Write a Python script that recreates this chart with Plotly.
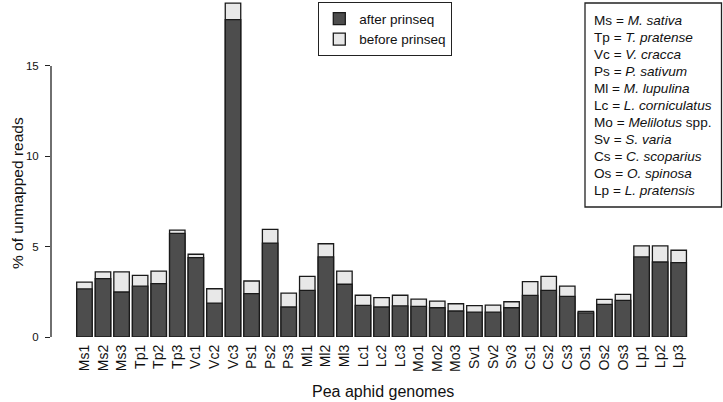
import plotly.graph_objects as go

genomes = ["Ms1", "Ms2", "Ms3", "Tp1", "Tp2", "Tp3", "Vc1", "Vc2", "Vc3",
           "Ps1", "Ps2", "Ps3", "Ml1", "Ml2", "Ml3", "Lc1", "Lc2", "Lc3",
           "Mo1", "Mo2", "Mo3", "Sv1", "Sv2", "Sv3", "Cs1", "Cs2", "Cs3",
           "Os1", "Os2", "Os3", "Lp1", "Lp2", "Lp3"]
after_prinseq = [2.66, 3.23, 2.49, 2.82, 2.95, 5.74, 4.39, 1.88, 17.56,
                 2.40, 5.20, 1.66, 2.58, 4.43, 2.92, 1.75, 1.66, 1.72,
                 1.70, 1.62, 1.44, 1.38, 1.38, 1.62, 2.30, 2.58, 2.25,
                 1.33, 1.81, 2.03, 4.43, 4.15, 4.12]
before_prinseq = [3.04, 3.60, 3.60, 3.41, 3.65, 5.92, 4.58, 2.67, 18.48,
                  3.10, 5.96, 2.43, 3.36, 5.16, 3.65, 2.31, 2.18, 2.31,
                  2.10, 1.99, 1.84, 1.74, 1.76, 1.95, 3.06, 3.36, 2.82,
                  1.42, 2.08, 2.36, 5.04, 5.04, 4.80]
y_ticks = [0, 5, 10, 15]
species_key = [
    ("Ms", "<i>M. sativa</i>"),
    ("Tp", "<i>T. pratense</i>"),
    ("Vc", "<i>V. cracca</i>"),
    ("Ps", "<i>P. sativum</i>"),
    ("Ml", "<i>M. lupulina</i>"),
    ("Lc", "<i>L. corniculatus</i>"),
    ("Mo", "<i>Melilotus</i> spp."),
    ("Sv", "<i>S. varia</i>"),
    ("Cs", "<i>C. scoparius</i>"),
    ("Os", "<i>O. spinosa</i>"),
    ("Lp", "<i>L. pratensis</i>"),
]

W, H = 723, 402
ML, MR, MT, MB = 51, 9, 0, 65
PW, PH = W - ML - MR, H - MT - MB
px_per_unit = 18.07
FONT = "Liberation Sans, Arial, Helvetica, sans-serif"


def px_x(px):
    return (px - ML) / PW


def px_y(py):
    return (H - MB - py) / PH


fig = go.Figure()
fig.add_trace(go.Bar(
    x=genomes, y=before_prinseq, name="before prinseq",
    marker=dict(color="#e8e8e8", line=dict(color="#1a1a1a", width=1.3)),
))
fig.add_trace(go.Bar(
    x=genomes, y=after_prinseq, name="after prinseq",
    marker=dict(color="#4d4d4d", line=dict(color="#1a1a1a", width=1.3)),
))

annotations = [
    dict(text="Pea aphid genomes", xref="paper", yref="paper",
         x=0.5, y=px_y(391), xanchor="center", yanchor="middle",
         showarrow=False, font=dict(size=16, color="#111", family=FONT)),
    dict(text="% of unmapped reads", xref="paper", yref="paper",
         x=px_x(17), y=px_y(193), xanchor="center", yanchor="middle",
         textangle=-90, showarrow=False,
         font=dict(size=15.5, color="#111", family=FONT)),
]
for i, (abbr, name) in enumerate(species_key):
    annotations.append(dict(
        text=f"{abbr} = {name}", xref="paper", yref="paper",
        x=px_x(592), y=px_y(20.7 + 16.95 * i), xanchor="left", yanchor="middle",
        showarrow=False, font=dict(size=13.6, color="#111", family=FONT)))

shapes = [
    dict(type="line", xref="paper", yref="y", x0=0, x1=0, y0=0, y1=15,
         line=dict(color="#222", width=1.3)),
    dict(type="rect", xref="paper", yref="paper",
         x0=px_x(585), x1=px_x(721.5), y0=px_y(3), y1=px_y(207),
         line=dict(color="#222", width=1.3), fillcolor="rgba(0,0,0,0)"),
]

fig.update_layout(
    width=W, height=H,
    margin=dict(l=ML, r=MR, t=MT, b=MB),
    plot_bgcolor="white", paper_bgcolor="white",
    barmode="overlay", bargap=1 - 1 / 1.2,
    font=dict(family=FONT, color="#111"),
    xaxis=dict(range=[-1.8, 33.9], showline=False, showgrid=False,
               zeroline=False, ticks="", tickangle=-90,
               tickfont=dict(size=14, color="#111"), ticklabelstandoff=4),
    yaxis=dict(range=[0, PH / px_per_unit], showline=False, showgrid=False,
               zeroline=False, tickvals=y_ticks, ticks="outside", ticklen=5,
               tickwidth=1.2, tickcolor="#222",
               tickfont=dict(size=11.5, color="#111"), ticklabelstandoff=4),
    legend=dict(x=px_x(318), y=px_y(2), xanchor="left", yanchor="top",
                traceorder="reversed", bordercolor="#222", borderwidth=1.3,
                bgcolor="white", font=dict(size=13.5, color="#111"),
                itemwidth=30, tracegroupgap=0),
    annotations=annotations,
    shapes=shapes,
)

fig.write_html(
    "out.html",
    config={"displayModeBar": False},
    post_script="document.body.style.margin='0';document.body.style.padding='0';",
)
